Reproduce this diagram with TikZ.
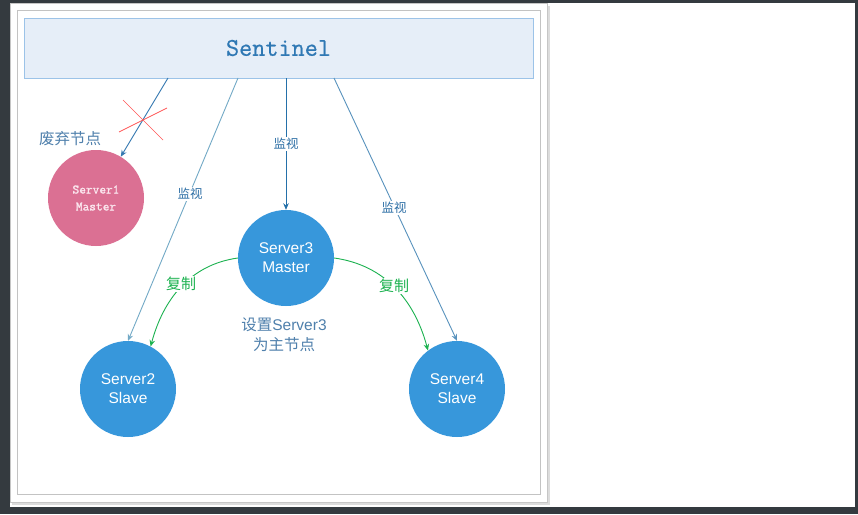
\documentclass[tikz,border=0pt]{standalone}
\usepackage{fontspec}
\setmainfont{Liberation Sans}
\setmonofont{Latin Modern Mono}
\newfontfamily\heavymono[FakeBold=1.2]{Latin Modern Mono}
\newfontfamily\semimono[FakeBold=0.6]{Latin Modern Mono}
\newfontfamily\cjk{Noto Sans CJK SC}
\usetikzlibrary{arrows.meta,calc}
\definecolor{frame}{HTML}{343A3F}
\definecolor{shadowgray}{HTML}{DCDCDC}
\definecolor{panelgray}{HTML}{C6C6C6}
\definecolor{innergray}{HTML}{C3C3C3}
\definecolor{sentfill}{HTML}{E6EEF8}
\definecolor{sentborder}{HTML}{9CC3E8}
\definecolor{senttext}{HTML}{2F78B4}
\definecolor{pinksrv}{HTML}{DB7093}
\definecolor{pinktext}{HTML}{FBE6EE}
\definecolor{srvblue}{HTML}{3797DB}
\definecolor{monblue}{HTML}{2C6EA5}
\definecolor{aonecol}{HTML}{3579B1}
\definecolor{atwocol}{HTML}{72A9C6}
\definecolor{athreecol}{HTML}{2470A9}
\definecolor{afourcol}{HTML}{5892BD}
\definecolor{repgreen}{HTML}{1CB250}
\definecolor{labelblue}{HTML}{4F80AC}
\definecolor{xred}{HTML}{FF5555}
\begin{document}
\begin{tikzpicture}[x=1pt,y=-1pt,
  server/.style={circle, minimum size=96pt, inner sep=0pt, fill=srvblue, text=white, align=center, font=\fontsize{15.5}{19}\selectfont},
  mon/.style={-{Stealth[length=6.5pt,width=5.5pt]}, line width=0.9pt},
  rep/.style={-{Stealth[length=6.5pt,width=5.5pt]}, line width=0.9pt, draw=repgreen},
  lbl/.style={fill=white, inner sep=1pt, font=\cjk\fontsize{12.5}{14}\selectfont, text=monblue},
  replbl/.style={fill=white, inner sep=1pt, font=\cjk\fontsize{15}{17}\selectfont, text=repgreen},
  note/.style={align=center, text=labelblue, font=\fontsize{15.5}{20}\selectfont},
]
\useasboundingbox (0,0) rectangle (858,514);
% page and frame
\fill[frame] (0,0) rectangle (858,514);
\fill[white] (10,3) rectangle (855,507);
\fill[shadowgray] (12,6) rectangle (550,505);
\filldraw[fill=white, draw=panelgray, line width=0.8pt] (10,3) rectangle (547,502);
\draw[innergray, line width=0.8pt] (17,10) rectangle (540,494);
% sentinel
\node[draw=sentborder, fill=sentfill, line width=0.8pt, minimum width=509pt, minimum height=60pt, inner sep=0pt,
      text=senttext, font=\semimono\fontsize{25.5}{25}\selectfont] (sentinel) at (278.5,48) {Sentinel};
% servers
\node[server, fill=pinksrv, text=pinktext, font=\heavymono\fontsize{13}{17}\selectfont] (server1) at (96,198) {Server1\\Master};
\node[server] (server3) at (286,258) {Server3\\Master};
\node[server] (server2) at (128,389) {Server2\\Slave};
\node[server] (server4) at (457,389) {Server4\\Slave};
% start points on sentinel
\coordinate (s1) at (168,78);
\coordinate (s2) at (238,78);
\coordinate (s3) at (286,78);
\coordinate (s4) at (334,78);
% monitoring arrows
\draw[mon, draw=aonecol] (s1) -- (server1);
\draw[mon, draw=atwocol] (s2) -- (server2.north);
\draw[mon, draw=athreecol] (s3) -- (server3.north);
\draw[mon, draw=afourcol] (s4) -- (server4.north);
\node[lbl] (m2) at (190,194) {监视};
\node[lbl] (m3) at (286,144) {监视};
\node[lbl] (m4) at (394,208) {监视};
% replication
\draw[rep] (server3.west) to[out=188,in=75] (server2.62);
\draw[rep] (server3.east) to[out=-8,in=105] (server4.127);
\node[replbl] (r2) at (181,284) {复制};
\node[replbl] (r4) at (394,286) {复制};
% notes
\node[note, font=\cjk\fontsize{15.5}{20}\selectfont] (dropped) at (70,139) {废弃节点};
\node[note] (setmaster) at (284,335) {{\cjk 设置}Server3\\{\cjk 为主节点}};
% red cross
\draw[xred, line width=0.7pt] (123,100) -- (163,140);
\draw[xred, line width=0.7pt] (119,132) -- (167,108);
\end{tikzpicture}
\end{document}
